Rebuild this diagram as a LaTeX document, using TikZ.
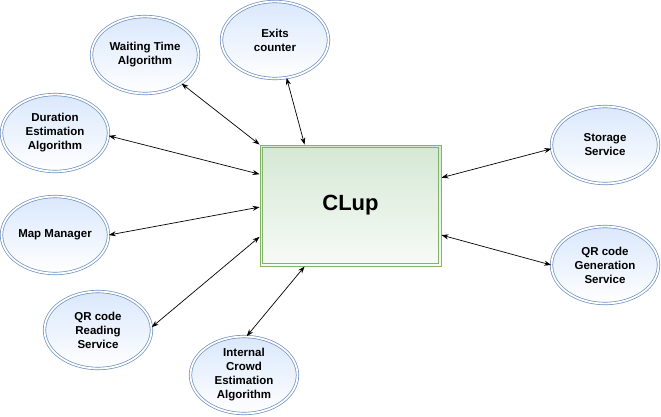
\documentclass[tikz,border=0pt]{standalone}
\usepackage{fontspec}
\setmainfont{Liberation Sans}
\usetikzlibrary{arrows.meta,shapes.geometric}
\definecolor{ellline}{HTML}{6C8EBF}
\definecolor{ellfill}{HTML}{DAE8FC}
\definecolor{boxline}{HTML}{82B366}
\definecolor{boxfill}{HTML}{D5E8D4}
\tikzset{
	service/.style={ellipse, draw=ellline, line width=0.7pt, double=white, double distance=1.8pt,
		top color=ellfill, bottom color=white, minimum width=107pt, minimum height=77pt,
		inner sep=0pt, align=center, font=\fontsize{11.5}{14}\selectfont\bfseries},
	mainbox/.style={rectangle, draw=boxline, line width=0.9pt,
		top color=boxfill, bottom color=boxfill!20, minimum width=181pt, minimum height=121pt,
		inner sep=0pt, font=\fontsize{22}{26}\selectfont\bfseries},
	innerframe/.style={draw=boxline, line width=0.9pt},
	link/.style={{Stealth[length=7pt,width=5pt]}-{Stealth[length=7pt,width=5pt]}, line width=0.7pt, black}
}

\begin{document}
\begin{tikzpicture}[x=1pt,y=-1pt]
			%%%%% START %%%%%
			\useasboundingbox (0,0) rectangle (661,416);
			
			\node[mainbox] (clup) at (350.5,205.5) {CLup};
			\draw[innerframe] ([shift={(2.6pt,-2.6pt)}]clup.north west) rectangle ([shift={(-2.6pt,2.6pt)}]clup.south east);
			
			\node[service] (wta) at (145,55) {Waiting Time\\Algorithm};
			\node[service] (exc) at (275,40) {Exits\\counter};
			\node[service] (dea) at (55,133) {Duration\\Estimation\\Algorithm};
			\node[service] (mm) at (55,235) {Map Manager};
			\node[service] (qrr) at (98,330) {QR code\\Reading\\Service};
			\node[service] (ice) at (244,375) {Internal\\Crowd\\Estimation\\Algorithm};
			\node[service] (ss) at (605,145) {Storage\\Service};
			\node[service] (qrg) at (605,265) {QR code\\Generation\\Service};
			
			\draw[link] (wta.-38) -- (clup.north west);
			\draw[link] (exc.-73) -- (clup.127);
			\draw[link] (dea.-3) -- (clup.161);
			\draw[link] (mm.east) -- (clup.181);
			\draw[link] (qrr.3) -- (clup.199);
			\draw[link] (ice.86) -- (clup.233);
			\draw[link] (ss.184) -- (clup.17);
			\draw[link] (qrg.west) -- (clup.-18);
			
			%%%%% END %%%%%
		\end{tikzpicture}
\end{document}
